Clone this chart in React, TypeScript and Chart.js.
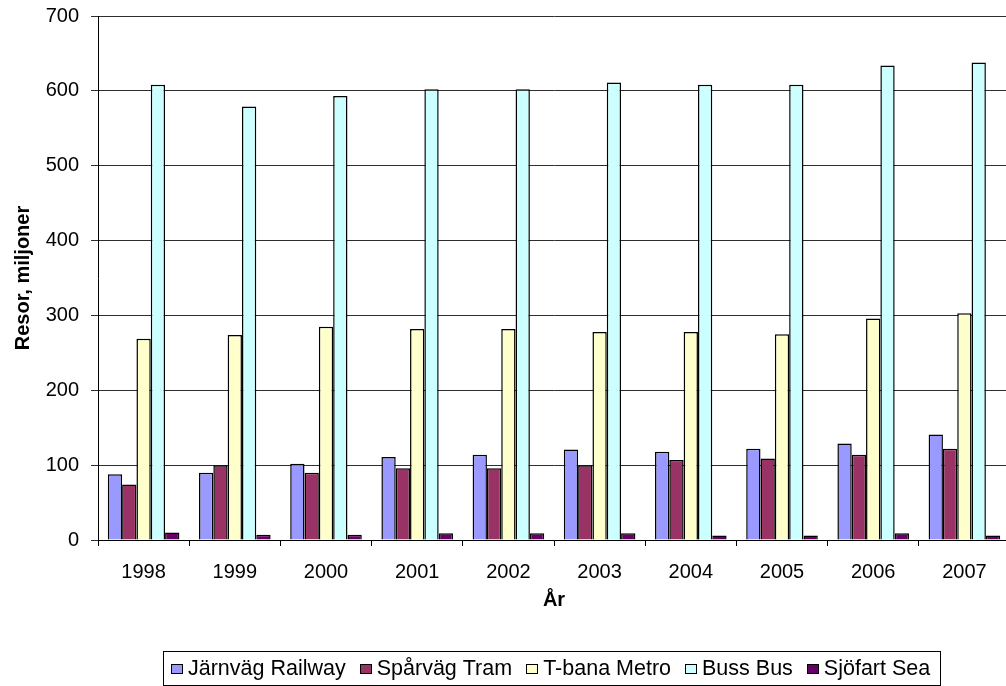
import { useEffect, useRef } from "react";
import { Chart, registerables } from "chart.js";

Chart.register(...registerables);

// Passenger journeys per year, millions
const years = ["1998", "1999", "2000", "2001", "2002", "2003", "2004", "2005", "2006", "2007"];
const railway = [88, 90, 102, 111, 114, 121, 118, 122, 129, 141];
const tram = [74, 100, 90, 96, 96, 100, 107, 109, 114, 122];
const metro = [269, 274, 285, 282, 282, 278, 278, 275, 296, 303];
const bus = [608, 579, 593, 602, 602, 611, 608, 608, 634, 638];
const sea = [10, 7, 7, 9, 9, 9, 6, 6, 9, 6];

const seriesLabels = ["Järnväg Railway", "Spårväg Tram", "T-bana Metro", "Buss Bus", "Sjöfart Sea"];
const seriesColors = ["#9999FF", "#993366", "#FFFFCC", "#CCFFFF", "#660066"];
const yTicks = { min: 0, max: 700, step: 100 };

const FAMILY = "'Liberation Sans', Arial, sans-serif";

// Legend drawn as a single framed row under the x-axis title
const boxedLegend = {
  id: "boxedLegend",
  afterDraw(chart: any) {
    const ctx: CanvasRenderingContext2D = chart.ctx;
    ctx.save();
    ctx.font = `21.5px ${FAMILY}`;
    const swW = 12;
    const swH = 10;
    const swGap = 5;
    const itemGap = 14;
    const padL = 8;
    const padR = 10;
    const items = chart.data.datasets.map((ds: any) => ({
      label: ds.label as string,
      color: ds.backgroundColor as string,
      w: ctx.measureText(ds.label).width,
    }));
    const content =
      items.reduce((s: number, it: any) => s + swW + swGap + it.w, 0) + itemGap * (items.length - 1);
    const boxW = Math.round(padL + content + padR);
    const cx = (chart.chartArea.left + chart.chartArea.right) / 2 - 2.5;
    const left = Math.round(cx - boxW / 2);
    const top = chart.height - 35;
    const boxH = 34;

    ctx.fillStyle = "#fff";
    ctx.fillRect(left, top, boxW, boxH);
    ctx.strokeStyle = "#000";
    ctx.lineWidth = 1;
    ctx.strokeRect(left + 0.5, top + 0.5, boxW, boxH);

    const midY = top + boxH / 2 + 1;
    let x = left + padL;
    ctx.textBaseline = "middle";
    ctx.textAlign = "left";
    for (const it of items) {
      const sx = Math.round(x);
      const sy = Math.round(midY - swH / 2);
      ctx.fillStyle = it.color;
      ctx.fillRect(sx, sy, swW, swH);
      ctx.strokeStyle = "#000";
      ctx.strokeRect(sx + 0.5, sy + 0.5, swW - 1, swH - 1);
      x += swW + swGap;
      ctx.fillStyle = "#000";
      ctx.fillText(it.label, x, midY);
      x += it.w + itemGap;
    }
    ctx.restore();
  },
};

export default function App() {
  const ref = useRef<HTMLCanvasElement | null>(null);

  useEffect(() => {
    if (!ref.current) return;
    const seriesValues = [railway, tram, metro, bus, sea];
    const chart = new Chart(ref.current, {
      type: "bar",
      data: {
        labels: years,
        datasets: seriesValues.map((vals, i) => ({
          label: seriesLabels[i],
          data: vals,
          backgroundColor: seriesColors[i],
          borderColor: "#000",
          borderWidth: 1.5,
          barPercentage: 1,
          categoryPercentage: 0.785,
        })),
      },
      options: {
        responsive: false,
        animation: false,
        devicePixelRatio: 1,
        layout: { padding: { left: 0, right: 6, top: 16, bottom: 56 } },
        plugins: {
          legend: { display: false },
          tooltip: { enabled: false },
        },
        scales: {
          x: {
            grid: {
              offset: true,
              drawOnChartArea: false,
              drawTicks: true,
              tickLength: 6,
              color: "#000",
            },
            border: { color: "#000", width: 1 },
            ticks: {
              color: "#000",
              font: { family: FAMILY, size: 20 },
              padding: 14,
              maxRotation: 0,
              autoSkip: false,
            },
            title: {
              display: true,
              text: "År",
              color: "#000",
              font: { family: FAMILY, size: 20, weight: "bold" },
              padding: { top: 0, bottom: 18 },
            },
            afterFit: (s: any) => {
              s.height = 90;
            },
          },
          y: {
            min: yTicks.min,
            max: yTicks.max,
            ticks: {
              stepSize: yTicks.step,
              color: "#000",
              font: { family: FAMILY, size: 20 },
              padding: 12,
            },
            grid: { color: "#2e2e2e", lineWidth: 1, tickLength: 7 },
            border: { color: "#000", width: 1 },
            title: {
              display: true,
              text: "Resor, miljoner",
              color: "#000",
              font: { family: FAMILY, size: 20, weight: "bold" },
              padding: { top: 11, bottom: 0 },
            },
            afterFit: (s: any) => {
              s.width = 98;
              s.paddingTop = 0;
              s.paddingBottom = 0;
            },
          },
        },
      },
      plugins: [boxedLegend],
    } as any);
    return () => chart.destroy();
  }, []);

  return (
    <div
      style={{
        position: "fixed",
        left: 0,
        top: 0,
        width: 1006,
        height: 686,
        overflow: "hidden",
        background: "#fff",
      }}
    >
      <canvas ref={ref} width={1016} height={686} style={{ display: "block" }} />
    </div>
  );
}
